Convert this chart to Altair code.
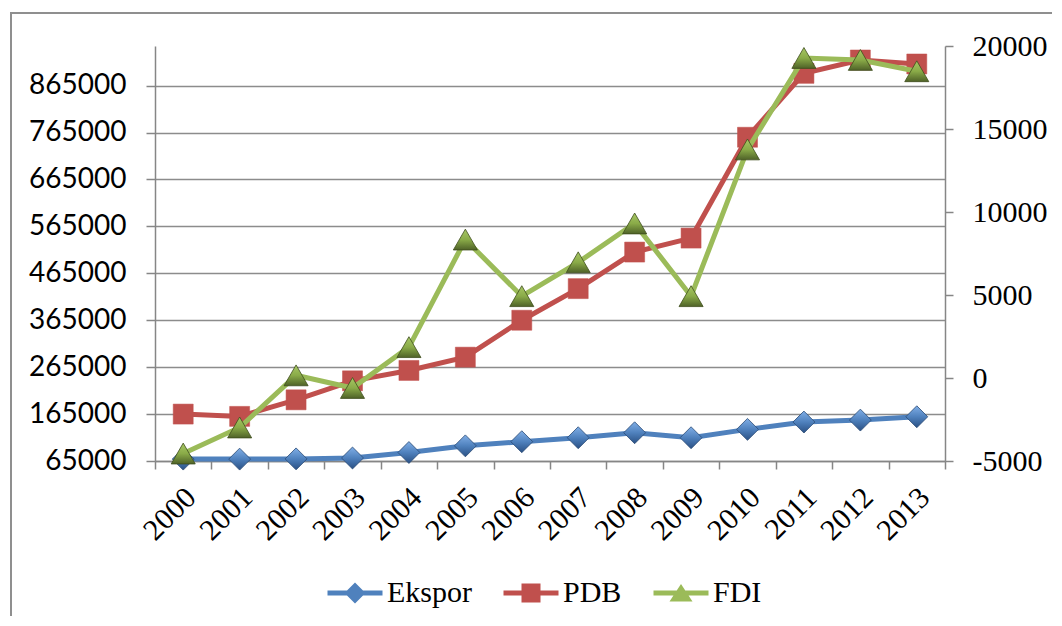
import altair as alt
import pandas as pd

years = list(range(2000, 2014))
series_names = ["Ekspor", "PDB", "FDI"]
ekspor = [69000, 69000, 69500, 71400, 83100, 97300, 106100, 114600, 125200, 114600, 132400, 148000, 152200, 159300]
pdb = [165000, 160100, 195400, 235900, 258000, 286300, 365000, 432400, 510300, 540100, 755000, 891200, 919700, 911200]
fdi = [-4550, -2980, 160, -600, 1860, 8340, 4930, 6970, 9310, 4930, 13770, 19280, 19160, 18480]
left_ticks = [65000, 165000, 265000, 365000, 465000, 565000, 665000, 765000, 865000]
right_ticks = [-5000, 0, 5000, 10000, 15000, 20000]
colors = ["#4F81BD", "#C0504D", "#9BBB59"]

rows = []
for name, vals in zip(series_names, [ekspor, pdb, fdi]):
    for yr, v in zip(years, vals):
        rows.append({"year": yr, "series": name, "value": v})
df = pd.DataFrame(rows)

AX = "#868686"
SERIF = "Liberation Serif, Times New Roman, serif"

xaxis = alt.Axis(title=None, labelAngle=315, labelAlign="right", labelBaseline="top",
                 labelFont=SERIF, labelFontSize=30, labelColor="black", labelOverlap=False,
                 tickBand="extent", tickSize=8, tickColor=AX, tickWidth=1.5,
                 domainColor=AX, domainWidth=1.5, labelPadding=13, labelOffset=-3, grid=False)
xenc = alt.X("year:O", scale=alt.Scale(type="band", paddingInner=0, paddingOuter=0), axis=xaxis)

left_axis = alt.Axis(title=None, orient="left", values=left_ticks, format="d",
                     labelFont="Lato", labelFontSize=28, labelColor="black", labelPadding=20,
                     tickSize=9, tickColor=AX, tickWidth=1.5, domainColor=AX, domainWidth=1.5,
                     grid=True, gridColor="#8c8c8c", gridWidth=1.5)
left_scale = alt.Scale(domain=[65000, 949500], nice=False, zero=False)
right_axis = alt.Axis(title=None, orient="right", values=right_ticks,
                      labelExpr="'' + datum.value",
                      labelFont=SERIF, labelFontSize=30, labelColor="black", labelPadding=19,
                      tickSize=8, tickColor=AX, tickWidth=1.5, domainColor=AX, domainWidth=1.5,
                      grid=False)
right_scale = alt.Scale(domain=[-5000, 20000], nice=False, zero=False)

color_scale = alt.Scale(domain=series_names, range=colors)

bar = "M-2.75,-0.25H2.75V0.25H-2.75Z"
shape_paths = [
    bar + "M0,-1.05L1.05,0L0,1.05L-1.05,0Z",
    bar + "M-0.95,-0.95H0.95V0.95H-0.95Z",
    bar + "M0,-0.9L1.15,0.85L-1.15,0.85Z",
]

base = alt.Chart(df)

def grad(c1, c2, c3):
    return alt.Gradient(gradient="linear", x1=0, x2=0, y1=0, y2=1,
                        stops=[alt.GradientStop(color=c1, offset=0),
                               alt.GradientStop(color=c2, offset=0.5),
                               alt.GradientStop(color=c3, offset=1)])

def series_line(name, col, yscale, yaxis):
    return base.transform_filter(alt.datum.series == name).mark_line(strokeWidth=5, color=col).encode(
        x=xenc,
        y=alt.Y("value:Q", scale=yscale, axis=yaxis),
    )

def series_points(name, yscale, yaxis, **mk):
    return base.transform_filter(alt.datum.series == name).mark_point(filled=True, opacity=1, **mk).encode(
        x=xenc,
        y=alt.Y("value:Q", scale=yscale, axis=yaxis),
    )

ek_line = series_line("Ekspor", colors[0], left_scale, left_axis)
ek_pts = series_points("Ekspor", left_scale, left_axis, shape="diamond", size=480,
                       fill=grad("#80aee6", "#4F81BD", "#2a5084"), stroke="#2a4a75", strokeWidth=0.8)
pdb_line = series_line("PDB", colors[1], left_scale, left_axis)
pdb_pts = series_points("PDB", left_scale, left_axis, shape="square", size=400,
                        fill="#C0504D", stroke="#C0504D", strokeWidth=0.5)

# legend-only layer: no rows survive the filter, the legend comes from the explicit domains
legend_layer = base.mark_point(filled=True, opacity=1).encode(
    x=xenc,
    y=alt.Y("value:Q", scale=left_scale, axis=left_axis),
    color=alt.Color("series:N", scale=color_scale,
                    legend=alt.Legend(title=None, orient="none", direction="horizontal",
                                      legendX=185, legendY=532, padding=0,
                                      symbolSize=400, symbolStrokeWidth=0, symbolOpacity=1,
                                      labelFont=SERIF, labelFontSize=30, labelColor="black",
                                      labelOffset=17, columnPadding=31)),
    shape=alt.Shape("series:N", scale=alt.Scale(domain=series_names, range=shape_paths)),
).transform_filter(alt.datum.value < -1e12)

frame_data = alt.Data(values=[{"k": 0}])
frame_v = alt.Chart(frame_data).mark_rule(color="#8f8f8f", strokeWidth=2).encode(
    x=alt.value(-144), y=alt.value(-33), y2=alt.value(700))
frame_h = alt.Chart(frame_data).mark_rule(color="#8f8f8f", strokeWidth=2).encode(
    x=alt.value(-145), x2=alt.value(1000), y=alt.value(-33))

left = alt.layer(ek_line, ek_pts, pdb_line, pdb_pts, legend_layer, frame_v, frame_h)

fdi_line = series_line("FDI", colors[2], right_scale, right_axis)
fdi_pts = series_points("FDI", right_scale, right_axis, shape="triangle-up", size=580,
                        fill=grad("#a7c765", "#8aab48", "#4f6228"), stroke="#3d4d1c", strokeWidth=0.8)
right = alt.layer(fdi_line, fdi_pts)

chart = alt.layer(left, right).resolve_scale(y="independent").properties(
    width=790, height=415,
    padding={"left": 147, "top": 38, "right": 107, "bottom": 155},
    autosize=alt.AutoSizeParams(type="none"),
    background="white",
).configure_view(stroke=None)

chart.save("out.html", embed_options={"renderer": "svg", "actions": False})
